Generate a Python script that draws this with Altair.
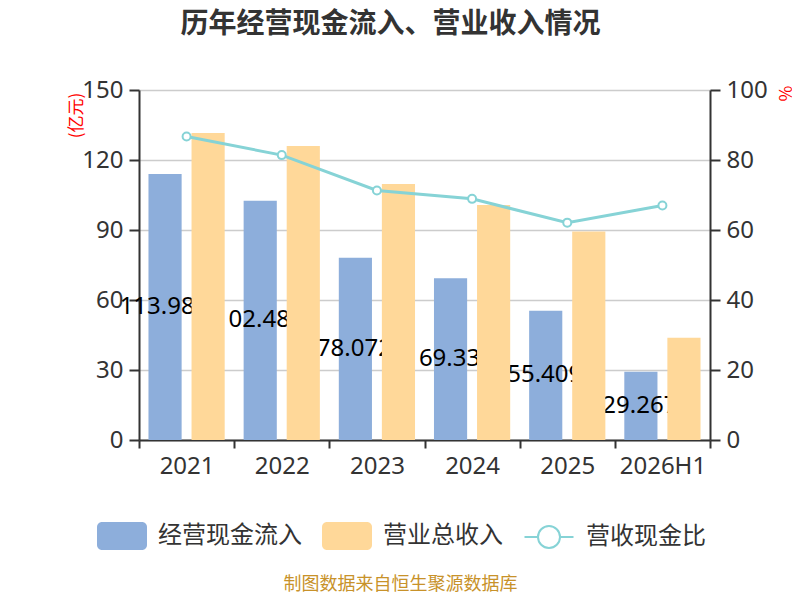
import altair as alt
import pandas as pd

# ---- data ----
years = ['2021', '2022', '2023', '2024', '2025', '2026H1']
cash_inflow = [113.983, 102.484, 78.072, 69.33, 55.409, 29.267]    # 经营现金流入 (亿元)
revenue = [131.6, 126.0, 109.7, 100.7, 89.4, 43.8]                  # 营业总收入 (亿元)
ratio = [86.7, 81.4, 71.3, 68.9, 62.1, 67.0]                        # 营收现金比 (%)

S1, S2, S3 = '经营现金流入', '营业总收入', '营收现金比'

BLUE, ORANGE, TEAL = '#8DAEDB', '#FFD899', '#86D3D6'
GOLD = '#C8922A'
CJK = 'Noto Sans CJK SC'
NUM = 'Noto Sans'

blue_df = pd.DataFrame({'year': years, 'series': S1, 'value': cash_inflow})
blue_df['half'] = blue_df['value'] / 2
blue_df['label'] = [f'{v:.3f}'.rstrip('0').rstrip('.') for v in cash_inflow]
orange_df = pd.DataFrame({'year': years, 'series': S2, 'value': revenue})
line_df = pd.DataFrame({'year': years, 'series': S3, 'ratio': ratio})

RECT = ('M-0.8,-0.56 H0.8 A0.2,0.2 0 0 1 1,-0.36 V0.36 A0.2,0.2 0 0 1 0.8,0.56 '
        'H-0.8 A0.2,0.2 0 0 1 -1,0.36 V-0.36 A0.2,0.2 0 0 1 -0.8,-0.56 Z')
LINEP = ('M-0.98,0 H-0.44 M0.44,0 H0.98 M-0.44,0 A0.44,0.44 0 1 1 0.44,0 '
         'A0.44,0.44 0 1 1 -0.44,0 Z')

bar_legend = alt.Legend(
    title=None, orient='none', legendX=-42, legendY=421, direction='horizontal',
    symbolType=RECT, symbolSize=2500, symbolStrokeWidth=0, symbolOpacity=1,
    labelFontSize=24, labelFont=CJK, labelColor='#333',
    labelOffset=11, columnPadding=20, padding=0, labelLimit=400)
line_legend = alt.Legend(
    title=None, orient='none', legendX=384, legendY=421, direction='horizontal',
    symbolType=LINEP, symbolSize=2500, symbolStrokeWidth=2, symbolFillColor='white',
    symbolOpacity=1, labelFontSize=24, labelFont=CJK, labelColor='#333',
    labelOffset=11, padding=0, labelLimit=400)

color = alt.Color('series:N', scale=alt.Scale(domain=[S1, S2], range=[BLUE, ORANGE]),
                  legend=bar_legend)
stroke = alt.Stroke('series:N', scale=alt.Scale(domain=[S3], range=[TEAL]), legend=line_legend)

x_axis = alt.Axis(
    title='制图数据来自恒生聚源数据库', titleX=261, titleY=144, titleAngle=0,
    titleAlign='center', titleBaseline='middle', titleFontSize=18, titleColor=GOLD,
    titleFont=CJK, titleFontWeight='normal',
    labelAngle=0, labelFontSize=24, labelColor='#333', labelFont=NUM, labelPadding=6,
    tickSize=8, tickWidth=2, tickColor='#333', domainColor='#333', domainWidth=2,
    tickBand='extent', grid=False)
x_enc = alt.X('year:N', sort=years,
              scale=alt.Scale(domain=years, paddingInner=0, paddingOuter=0), axis=x_axis)

xoff = alt.XOffset('series:N', scale=alt.Scale(domain=[S1, S2], paddingInner=0.23, paddingOuter=0.22))

left_axis = alt.Axis(
    values=[0, 30, 60, 90, 120, 150], title='(亿元)', titleX=-63, titleY=25, titleAngle=-90,
    titleAlign='center', titleBaseline='middle', titleColor='red', titleFontSize=17,
    titleFont=CJK, titleFontWeight='normal',
    labelFontSize=24, labelColor='#333', labelFont=NUM, labelPadding=6,
    tickSize=10, tickWidth=2, tickColor='#333', domainColor='#333', domainWidth=2,
    grid=True, gridColor='#CCCCCC', gridWidth=1.5)
left_scale = alt.Scale(domain=[0, 150])

right_axis = alt.Axis(
    orient='right', values=[0, 20, 40, 60, 80, 100], title='%', titleX=73, titleY=3,
    titleAngle=90, titleAlign='center', titleBaseline='middle', titleColor='red',
    titleFontSize=17, titleFont=CJK, titleFontWeight='normal',
    labelFontSize=24, labelColor='#333', labelFont=NUM, labelPadding=6,
    tickSize=10, tickWidth=2, tickColor='#333', domainColor='#333', domainWidth=2,
    grid=False)

blue_bars = alt.Chart(blue_df).mark_bar().encode(
    x=x_enc, xOffset=xoff,
    y=alt.Y('value:Q', scale=left_scale, axis=left_axis),
    color=color)

labels = alt.Chart(blue_df).mark_text(
    fontSize=24, font=NUM, color='black', align='center', baseline='middle', dx=-1).encode(
    x=x_enc, xOffset=xoff,
    y=alt.Y('half:Q', scale=left_scale, axis=left_axis),
    text='label:N')

orange_bars = alt.Chart(orange_df).mark_bar().encode(
    x=x_enc, xOffset=xoff,
    y=alt.Y('value:Q', scale=left_scale, axis=left_axis),
    color=color)

left = alt.layer(blue_bars, labels, orange_bars)

y_right = alt.Y('ratio:Q', scale=alt.Scale(domain=[0, 100]), axis=right_axis)
line = alt.Chart(line_df).mark_line(strokeWidth=3).encode(x=x_enc, y=y_right, stroke=stroke)
points = alt.Chart(line_df).mark_point(
    filled=True, fill='white', stroke=TEAL, strokeWidth=2, size=64, opacity=1).encode(
    x=x_enc, y=y_right)
right = alt.layer(line, points)

chart = alt.layer(left, right).resolve_scale(y='independent').properties(
    width=571, height=350,
    padding={'left': 131, 'top': 82, 'right': 82, 'bottom': 152},
    autosize=alt.AutoSizeParams(type='none'),
    title=alt.TitleParams('历年经营现金流入、营业收入情况', fontSize=28, fontWeight='bold',
                          font=CJK, color='#333', anchor='middle', dx=-34, offset=17,
                          baseline='alphabetic'),
).configure_view(strokeWidth=0)

chart.save('out.html', embed_options={'renderer': 'svg', 'actions': False})
